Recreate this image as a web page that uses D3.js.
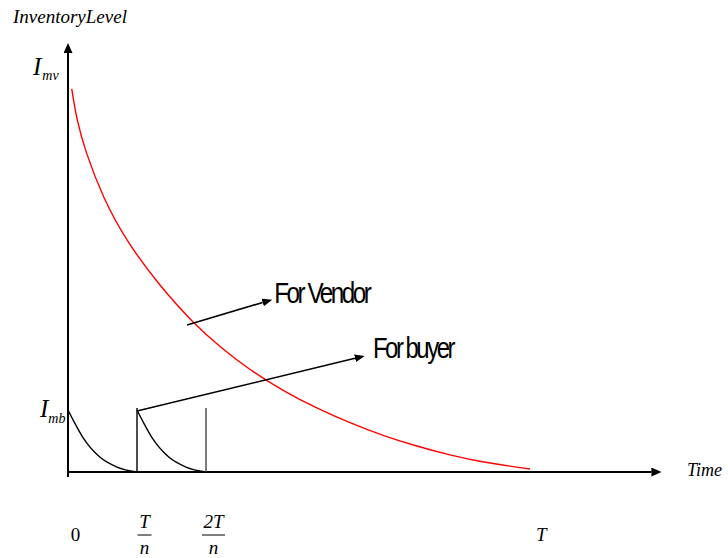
<!DOCTYPE html>
<html>
<head>
<meta charset="utf-8">
<script src="https://cdn.jsdelivr.net/npm/d3@7"></script>
<style>
  html, body { margin: 0; padding: 0; background: #fff; }
  svg { display: block; }
</style>
</head>
<body>
<svg id="chart" width="728" height="558"></svg>
<script>
// Vendor inventory (time in units of T/n, level in % of I_mv)
const vendorTime  = [0.054, 0.126, 0.246, 0.507, 0.855, 1.333, 1.812, 2.232, 2.638, 3.116, 3.609, 4.087, 4.565, 5.058, 5.536, 6.014, 6.696];
const vendorLevel = [100, 92, 84, 71.5, 60, 48.5, 38.9, 32.2, 26.6, 21.2, 16.6, 12.8, 9.5, 6.7, 4.4, 2.5, 0.8];

// Buyer inventory within one replenishment cycle (fraction of the cycle, level)
const buyerPhase = [0, 0.1, 0.22, 0.46, 0.71, 1.0];
const buyerLevel = [16.2, 12.7, 8.9, 3.9, 1.3, 0];
const buyerCycles = [0, 1];          // cycles drawn, starting at 0 and T/n
const cycleMarks = [1, 2];           // replenishment instants T/n and 2T/n
const cycleTop = 16.7;

// Time-axis labels
const tickValues = [0, 1, 2, 6.75];
const tickNum = ["0", "T", "2T", "T"];
const tickDen = [null, "n", "n", null];

// Axis extents
const timeMax = 8.6;
const levelMax = 112;

// Callouts: [start time, start level, tip time, tip level, text, text time, text level, text width]
const notes = [
  [1.725, 38.4, 2.96, 45.0, "For Vendor", 2.99, 44.1, 95],
  [1.0, 15.9, 4.30, 30.3, "For buyer", 4.42, 29.8, 80]
];

const SERIF = "'Times New Roman', Times, 'Liberation Serif', 'Nimbus Roman', 'DejaVu Serif', serif";
const NARROW = "'Liberation Sans Narrow', 'Arial Narrow', 'Liberation Sans', Arial, sans-serif";

const svg = d3.select("#chart");
const x = d3.scaleLinear().domain([0, timeMax]).range([68, 661.4]);
const y = d3.scaleLinear().domain([0, levelMax]).range([472, 43]);

// Arrowheads
const defs = svg.append("defs");
function marker(id, len, wid) {
  defs.append("marker")
    .attr("id", id)
    .attr("markerUnits", "userSpaceOnUse")
    .attr("markerWidth", len).attr("markerHeight", wid)
    .attr("viewBox", `0 0 ${len} ${wid}`)
    .attr("refX", 0).attr("refY", wid / 2)
    .attr("orient", "auto")
    .append("path")
    .attr("d", `M0,0L${len},${wid / 2}L0,${wid}Z`)
    .attr("fill", "#000");
}
marker("axisHead", 10, 9);
marker("noteHead", 10, 8);

// Axes
svg.append("line")
  .attr("x1", x(0)).attr("y1", y(0) + 5)
  .attr("x2", x(0)).attr("y2", y(levelMax) + 10)
  .attr("stroke", "#000").attr("stroke-width", 2)
  .attr("marker-end", "url(#axisHead)");
svg.append("line")
  .attr("x1", x(0) - 1).attr("y1", y(0))
  .attr("x2", x(timeMax) - 10).attr("y2", y(0))
  .attr("stroke", "#000").attr("stroke-width", 2)
  .attr("marker-end", "url(#axisHead)");

// Vendor curve
const smooth = d3.line().x(d => x(d[0])).y(d => y(d[1])).curve(d3.curveBasis);
svg.append("path")
  .attr("d", smooth(vendorTime.map((t, i) => [t, vendorLevel[i]])))
  .attr("fill", "none").attr("stroke", "#ff0000").attr("stroke-width", 1.4);

// Buyer cycles
const line = d3.line().x(d => x(d[0])).y(d => y(d[1])).curve(d3.curveMonotoneX);
buyerCycles.forEach(c => {
  svg.append("path")
    .attr("d", line(buyerPhase.map((p, i) => [c + p, buyerLevel[i]])))
    .attr("fill", "none").attr("stroke", "#000").attr("stroke-width", 1.4);
});
cycleMarks.forEach((m, i) => {
  svg.append("line")
    .attr("x1", x(m)).attr("x2", x(m))
    .attr("y1", y(0)).attr("y2", y(cycleTop))
    .attr("stroke", i === 0 ? "#000" : "#444").attr("stroke-width", 1.4);
});

// Callout arrows and their texts
notes.forEach(n => {
  const x1 = x(n[0]), y1 = y(n[1]), x2 = x(n[2]), y2 = y(n[3]);
  const len = Math.hypot(x2 - x1, y2 - y1);
  const bx = x2 - (x2 - x1) / len * 10, by = y2 - (y2 - y1) / len * 10;
  svg.append("line")
    .attr("x1", x1).attr("y1", y1).attr("x2", bx).attr("y2", by)
    .attr("stroke", "#000").attr("stroke-width", 1.6)
    .attr("marker-end", "url(#noteHead)");
  svg.append("text")
    .attr("font-family", NARROW)
    .attr("x", x(n[5])).attr("y", y(n[6]))
    .attr("font-size", 29)
    .attr("letter-spacing", -3)
    .attr("textLength", n[7]).attr("lengthAdjust", "spacingAndGlyphs")
    .text(n[4]);
});

// Axis titles
svg.append("text").attr("font-family", SERIF)
  .attr("x", 13).attr("y", 23)
  .attr("font-size", 19).attr("font-style", "italic")
  .text("InventoryLevel");
svg.append("text").attr("font-family", SERIF)
  .attr("x", 687).attr("y", 476)
  .attr("font-size", 18).attr("font-style", "italic")
  .text("Time");

// Level markers on the vertical axis
function levelLabel(px, py, sub, subDx, subDy) {
  const t = svg.append("text").attr("font-family", SERIF)
    .attr("x", px).attr("y", py).attr("font-style", "italic");
  t.append("tspan").attr("font-size", 25).text("I");
  t.append("tspan").attr("font-size", 14).attr("dx", subDx).attr("dy", subDy).text(sub);
}
levelLabel(33, 75, "mv", 1, 5);
levelLabel(40, 417, "mb", 0, 6);

// Time labels (plain or as fractions)
tickValues.forEach((v, i) => {
  const cx = x(v) + 7.5;
  if (tickDen[i] === null) {
    svg.append("text").attr("font-family", SERIF)
      .attr("x", cx).attr("y", 541)
      .attr("text-anchor", "middle")
      .attr("font-size", 19)
      .attr("font-style", i === 0 ? "normal" : "italic")
      .text(tickNum[i]);
  } else {
    svg.append("text").attr("font-family", SERIF)
      .attr("x", cx).attr("y", 528)
      .attr("text-anchor", "middle")
      .attr("font-size", 19).attr("font-style", "italic")
      .text(tickNum[i]);
    const half = tickNum[i].length > 1 ? 11.5 : 7;
    svg.append("line")
      .attr("x1", cx - half).attr("x2", cx + half)
      .attr("y1", 535).attr("y2", 535)
      .attr("stroke", "#000").attr("stroke-width", 1);
    svg.append("text").attr("font-family", SERIF)
      .attr("x", cx).attr("y", 554)
      .attr("text-anchor", "middle")
      .attr("font-size", 19).attr("font-style", "italic")
      .text(tickDen[i]);
  }
});
</script>
</body>
</html>
